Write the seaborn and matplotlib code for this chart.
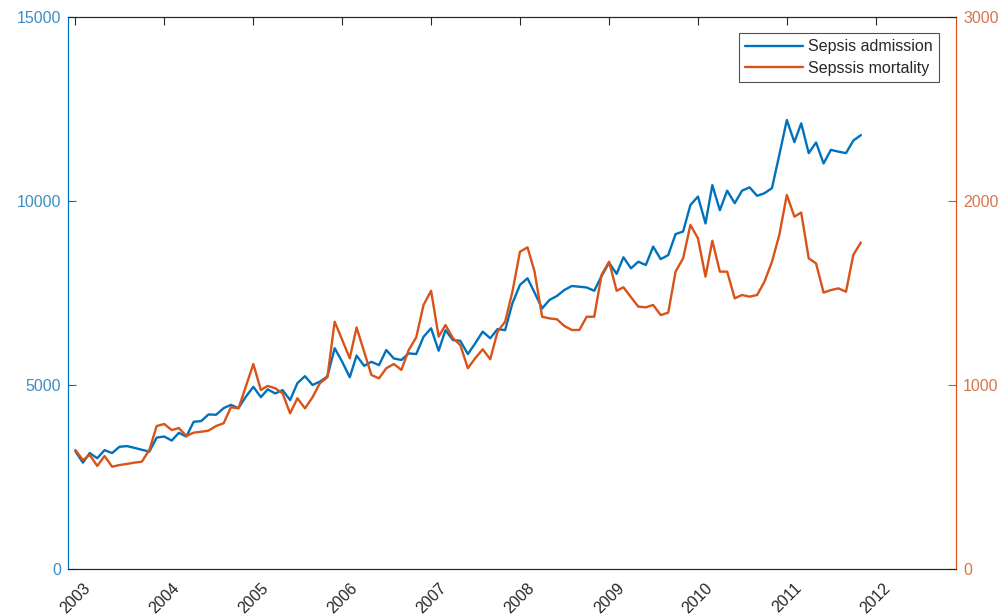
import numpy as np
import pandas as pd
import matplotlib
matplotlib.use("Agg")
import matplotlib.pyplot as plt
import matplotlib.dates as mdates
import seaborn as sns

# monthly values, Jan 2003 - Nov 2011
admission = [
    3200, 2890, 3150, 3010, 3230, 3150, 3320, 3340, 3290, 3240, 3190, 3570,
    3600, 3490, 3700, 3600, 4000, 4020, 4200, 4190, 4370, 4460, 4370, 4680,
    4950, 4670, 4880, 4770, 4860, 4590, 5050, 5240, 5000, 5090, 5230, 6000,
    5630, 5210, 5800, 5520, 5630, 5540, 5950, 5720, 5680, 5860, 5840, 6310,
    6540, 5930, 6490, 6220, 6200, 5840, 6130, 6450, 6270, 6520, 6490, 7220,
    7720, 7900, 7510, 7080, 7310, 7420, 7580, 7690, 7670, 7650, 7560, 7960,
    8320, 8020, 8470, 8170, 8350, 8260, 8760, 8420, 8530, 9100, 9170, 9890,
    10120, 9390, 10430, 9750, 10280, 9940, 10280, 10370, 10140, 10210, 10350, 11250,
    12200, 11600, 12110, 11300, 11590, 11020, 11390, 11340, 11300, 11640, 11790,
]
mortality = [
    647, 592, 620, 560, 614, 556, 565, 571, 578, 583, 647, 777,
    788, 755, 766, 723, 741, 746, 752, 777, 792, 879, 873, 991,
    1114, 973, 995, 982, 955, 846, 928, 873, 933, 1009, 1042, 1344,
    1245, 1145, 1313, 1181, 1054, 1036, 1091, 1114, 1082, 1190, 1259, 1435,
    1512, 1263, 1326, 1254, 1217, 1091, 1145, 1194, 1140, 1290, 1344, 1507,
    1724, 1748, 1616, 1371, 1362, 1357, 1321, 1299, 1299, 1371, 1371, 1598,
    1670, 1512, 1531, 1477, 1426, 1422, 1435, 1380, 1393, 1616, 1688, 1870,
    1797, 1589, 1784, 1616, 1616, 1471, 1489, 1480, 1489, 1561, 1670, 1815,
    2033, 1915, 1937, 1688, 1661, 1502, 1516, 1525, 1507, 1707, 1774,
]
months = pd.date_range("2003-01-01", periods=len(admission), freq="MS")
years = list(range(2003, 2013))
left_ticks = [0, 5000, 10000, 15000]
right_ticks = [0, 1000, 2000, 3000]

df = pd.DataFrame({"month": months, "admission": admission, "mortality": mortality})

sns.set_style("white")
plt.rcParams["font.family"] = ["Liberation Sans", "DejaVu Sans"]

blue = "#0072BD"
orange = "#D95319"

fig = plt.figure(figsize=(10.05, 6.15), dpi=100)
ax = fig.add_axes([0.0677, 0.0748, 0.8836, 0.8976])
ax2 = ax.twinx()

sns.lineplot(data=df, x="month", y="admission", ax=ax, color=blue, linewidth=1.7,
             label="Sepsis admission", legend=False)
sns.lineplot(data=df, x="month", y="mortality", ax=ax2, color=orange, linewidth=1.7,
             label="Sepssis mortality", legend=False)

ax.set_xlim(pd.Timestamp("2002-12-02"), pd.Timestamp("2012-11-26"))
ax.set_ylim(0, 15000)
ax2.set_ylim(0, 3000)
ax.set_xticks([pd.Timestamp(f"{y}-01-01") for y in years])
ax.xaxis.set_major_formatter(mdates.DateFormatter("%Y"))
ax.set_yticks(left_ticks)
ax2.set_yticks(right_ticks)
ax.set_xlabel("")
ax.set_ylabel("")
ax2.set_ylabel("")

for lab in ax.get_xticklabels():
    lab.set_rotation(45)

ax.tick_params(axis="x", direction="in", top=True, length=6, width=0.8,
               colors="#262626", labelsize=11.5, pad=8)
ax.tick_params(axis="y", direction="in", length=6, width=0.8, colors=blue,
               labelcolor="#3b8ec4", labelsize=11.5, pad=5)
ax2.tick_params(axis="y", direction="in", length=6, width=0.8, colors=orange,
                labelcolor="#d9744a", labelsize=11.5, pad=5)

for a in (ax, ax2):
    for s in a.spines.values():
        s.set_linewidth(0.8)
        s.set_color("#262626")
ax.spines["left"].set_color(blue)
ax2.spines["left"].set_color(blue)
ax2.spines["right"].set_color(orange)
ax.spines["right"].set_color(orange)

h1, l1 = ax.get_legend_handles_labels()
h2, l2 = ax2.get_legend_handles_labels()
leg = ax2.legend(h1 + h2, l1 + l2, loc="upper right", fontsize=11.5,
                 bbox_to_anchor=(0.981, 0.971), frameon=True, fancybox=False,
                 borderpad=0.4, handlelength=3.6, handletextpad=0.35,
                 labelspacing=0.4, borderaxespad=0)
leg.get_frame().set_edgecolor("#262626")
leg.get_frame().set_linewidth(0.8)

fig.savefig("out.png", dpi=100)
